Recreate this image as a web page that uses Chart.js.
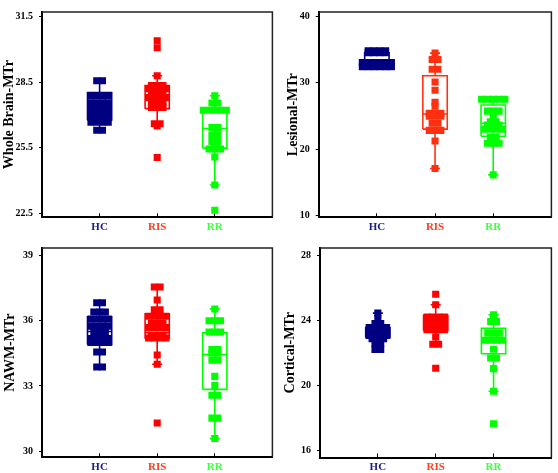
<!DOCTYPE html>
<html><head><meta charset="utf-8">
<script src="https://cdn.jsdelivr.net/npm/chart.js@4/dist/chart.umd.min.js"></script>
<style>
html,body{margin:0;padding:0;background:#fff;}
#wrap{position:relative;width:558px;height:473px;overflow:hidden;background:#fff;}
canvas{position:absolute;}
</style></head><body>
<div id="wrap">
<canvas id="c1" width="279" height="236" style="left:0;top:0"></canvas>
<canvas id="c2" width="279" height="236" style="left:279px;top:0"></canvas>
<canvas id="c3" width="279" height="237" style="left:0;top:236px"></canvas>
<canvas id="c4" width="279" height="237" style="left:279px;top:236px"></canvas>
</div>
<script>
// ---------- categories ----------
const groups = ['HC', 'RIS', 'RR'];

// ---------- Whole Brain-MTr ----------
const wbTickValues = [22.5, 25.5, 28.5, 31.5];
const wbTickLabels = ['22.5', '25.5', '28.5', '31.5'];
const wbHC = [28.57, 28.57, 27.88, 27.88, 27.88, 27.88, 27.56, 27.56, 27.56, 27.56, 27.33, 27.33, 27.33, 27.33,
  27.11, 27.11, 27.11, 27.11, 26.88, 26.88, 26.88, 26.88, 26.67, 26.67, 26.67, 26.67, 26.3, 26.3];
const wbRIS = [30.4, 30.08, 28.8, 28.35, 28.35, 28.35, 28.2, 28.2, 28.2, 28.2, 28.0, 28.0, 28.0, 27.8, 27.8, 27.8, 27.8,
  27.55, 27.55, 27.55, 27.35, 27.35, 27.35, 26.6, 26.6, 26.5, 25.05];
const wbRR = [27.88, 27.55, 27.55, 27.22, 27.22, 27.22, 27.22, 27.22, 26.43, 26.43, 26.08, 26.08, 25.78, 25.78,
  25.44, 25.44, 25.44, 25.07, 23.79, 22.63];
const wbQ1 = [26.77, 27.29, 25.48];
const wbMed = [27.4, 27.8, 26.38];
const wbQ3 = [28.03, 28.35, 27.27];
const wbLo = [26.3, 26.5, 23.79];
const wbHi = [28.57, 28.8, 27.88];

// ---------- Lesional-MTr ----------
const lesTickValues = [10, 20, 30, 40];
const lesTickLabels = ['10', '20', '30', '40'];
const lesHC = [34.78, 34.78, 34.78, 34.78, 34.49, 34.49, 34.49, 34.49, 33.03, 33.03, 33.03, 33.03, 33.03, 33.03,
  32.38, 32.38, 32.38, 32.38, 32.38, 32.38];
const lesRIS = [34.44, 33.47, 33.47, 32.02, 32.02, 30.09, 28.87, 27.04, 26.46, 25.4, 25.4, 25.4, 24.95, 24.95, 24.95,
  23.89, 23.89, 22.83, 22.83, 22.83, 21.23, 17.11];
const lesRR = [27.52, 27.52, 27.52, 27.52, 27.52, 25.73, 25.73, 25.73, 24.72, 24.14, 24.14, 23.65, 23.65, 23.65,
  23.02, 23.02, 23.02, 23.02, 21.81, 21.81, 20.89, 20.89, 20.89, 16.15];
const lesQ1 = [32.38, 23.02, 21.96];
const lesMed = [33.03, 25.3, 23.9];
const lesQ3 = [34.49, 31.05, 26.65];
const lesLo = [32.38, 17.11, 16.15];
const lesHi = [34.78, 34.44, 27.52];

// ---------- NAWM-MTr ----------
const nawmTickValues = [30, 33, 36, 39];
const nawmTickLabels = ['30', '33', '36', '39'];
const nawmHC = [36.82, 36.82, 36.4, 36.4, 36.4, 36.07, 36.07, 36.07, 36.07, 35.74, 35.74, 35.74, 35.74,
  35.45, 35.45, 35.45, 35.18, 35.18, 35.18, 35.18, 35.0, 35.0, 35.0, 35.0, 34.56, 34.56, 33.87, 33.87];
const nawmRIS = [37.55, 37.55, 36.95, 36.5, 36.5, 36.2, 36.2, 36.2, 36.2, 35.88, 35.88, 35.88, 35.68, 35.68, 35.68, 35.68,
  35.3, 35.3, 35.3, 35.2, 35.2, 35.2, 35.2, 34.42, 34.0, 31.3];
const nawmRR = [36.54, 36.0, 36.0, 36.0, 35.48, 35.48, 35.48, 34.67, 34.67, 34.5, 34.5, 34.18, 34.18, 33.44, 33.02,
  32.57, 32.57, 31.52, 31.52, 30.58];
const nawmQ1 = [34.9, 35.17, 32.84];
const nawmMed = [35.5, 35.45, 34.44];
const nawmQ3 = [36.18, 36.31, 35.44];
const nawmLo = [33.87, 34.0, 30.58];
const nawmHi = [36.82, 37.55, 36.54];

// ---------- Cortical-MTr ----------
const cortTickValues = [16, 20, 24, 28];
const cortTickLabels = ['16', '20', '24', '28'];
const cortHC = [24.46, 24.12, 23.82, 23.82, 23.57, 23.57, 23.57, 23.57, 23.32, 23.32, 23.32, 23.32, 23.09, 23.09, 23.09, 23.09,
  22.89, 22.89, 22.89, 22.59, 22.59, 22.22, 22.22];
const cortRIS = [25.62, 24.97, 24.22, 24.22, 24.22, 24.22, 23.98, 23.98, 23.98, 23.82, 23.82, 23.82, 23.82, 23.58, 23.58, 23.58,
  23.44, 23.44, 23.44, 23.44, 22.99, 22.55, 22.55, 21.07];
const cortRR = [24.35, 23.94, 23.94, 23.23, 23.23, 23.23, 22.79, 22.79, 22.79, 22.79, 22.24, 21.7, 21.7, 21.05, 19.66, 17.66];
const cortQ1 = [22.95, 23.38, 21.96];
const cortMed = [23.32, 23.8, 22.69];
const cortQ3 = [23.57, 24.33, 23.52];
const cortLo = [22.22, 22.55, 19.66];
const cortHi = [24.46, 24.97, 24.35];

// ---------- styling / layout ----------
const SERIF = "'Liberation Serif', 'Times New Roman', serif";
const STEP = 0.1;      // horizontal spread of tied points (x units)
const HW = 0.21;       // box half width (x units)
const panelSpecs = [
  {id:'c1', title:'Whole Brain-MTr', tv:wbTickValues, tl:wbTickLabels, min:22.31, max:31.72,
   vals:[wbHC, wbRIS, wbRR], q1:wbQ1, med:wbMed, q3:wbQ3, lo:wbLo, hi:wbHi,
   colors:['#000080', '#ff0000', '#00ff00'], yw:42, pr:3, xh:18.7, tpad:0.6},
  {id:'c2', title:'Lesional-MTr', tv:lesTickValues, tl:lesTickLabels, min:9.77, max:40.62,
   vals:[lesHC, lesRIS, lesRR], q1:lesQ1, med:lesMed, q3:lesQ3, lo:lesLo, hi:lesHi,
   colors:['#000080', '#ff3010', '#00ff00'], yw:39.7, pr:5, xh:18.7, tpad:5.6},
  {id:'c3', title:'NAWM-MTr', tv:nawmTickValues, tl:nawmTickLabels, min:29.72, max:39.34,
   vals:[nawmHC, nawmRIS, nawmRR], q1:nawmQ1, med:nawmMed, q3:nawmQ3, lo:nawmLo, hi:nawmHi,
   colors:['#000080', '#ff0000', '#00ff00'], yw:42, pr:2, xh:15.7, tpad:1.6},
  {id:'c4', title:'Cortical-MTr', tv:cortTickValues, tl:cortTickLabels, min:15.59, max:28.46,
   vals:[cortHC, cortRIS, cortRR], q1:cortQ1, med:cortMed, q3:cortQ3, lo:cortLo, hi:cortHi,
   colors:['#000080', '#ff0000', '#00ff00'], yw:41, pr:4, xh:15.5, tpad:3.1}
];
const labelColors = ['#1a1a8c', '#ff4020', '#40ff40'];

function spread(vals, g) {
  const counts = new Map(), seen = new Map();
  vals.forEach(v => counts.set(v, (counts.get(v) || 0) + 1));
  return vals.map(v => {
    const k = seen.get(v) || 0; seen.set(v, k + 1);
    const n = counts.get(v);
    return {x: g + (k - (n - 1) / 2) * STEP, y: v};
  });
}

const framePlugin = {
  id: 'frame',
  afterDraw(chart) {
    const {ctx, chartArea: a} = chart;
    ctx.save();
    ctx.strokeStyle = '#222';
    ctx.lineWidth = 1.5;
    ctx.beginPath();
    ctx.moveTo(a.left, a.top);
    ctx.lineTo(a.right, a.top);
    ctx.lineTo(a.right, a.bottom);
    ctx.stroke();
    ctx.restore();
  }
};

panelSpecs.forEach(P => {
  const datasets = [];
  groups.forEach((name, g) => {
    const col = P.colors[g];
    datasets.push({type:'line', data:[
        {x:g - HW, y:P.q1[g]}, {x:g + HW, y:P.q1[g]}, {x:g + HW, y:P.q3[g]}, {x:g - HW, y:P.q3[g]}, {x:g - HW, y:P.q1[g]}],
      borderColor:col, borderWidth:1.6, pointRadius:0, fill:false, tension:0, order:5});
    datasets.push({type:'line', data:[{x:g - HW, y:P.med[g]}, {x:g + HW, y:P.med[g]}],
      borderColor:col, borderWidth:1.6, pointRadius:0, fill:false, order:5});
    datasets.push({type:'line', data:[{x:g, y:P.hi[g]}, {x:g, y:P.q3[g]}, {x:g, y:null}, {x:g, y:P.q1[g]}, {x:g, y:P.lo[g]}],
      borderColor:col, borderWidth:1.6, pointRadius:0, fill:false, spanGaps:false, order:5});
    datasets.push({type:'scatter', data:[{x:g, y:P.lo[g]}, {x:g, y:P.hi[g]}],
      pointStyle:'line', pointRadius:5, borderColor:col, borderWidth:1.6, order:4});
    datasets.push({type:'scatter', data:spread(P.vals[g], g),
      pointStyle:'rect', pointRadius:5, backgroundColor:col, borderWidth:0, order:1});
  });

  new Chart(document.getElementById(P.id), {
    type:'scatter',
    data:{datasets},
    plugins:[framePlugin],
    options:{
      responsive:false, animation:false, devicePixelRatio:1,
      layout:{padding:{left:0, right:P.pr, top:5, bottom:0}},
      plugins:{legend:{display:false}, tooltip:{enabled:false}},
      scales:{
        x:{type:'linear', min:-1, max:3,
          afterBuildTicks:s => { s.ticks = groups.map((_, i) => ({value:i})); },
          afterFit:s => { s.height = P.xh; },
          ticks:{autoSkip:false, maxRotation:0, padding:7,
            callback:(v, i) => groups[i],
            color:c => labelColors[c.index],
            font:{family:SERIF, size:11, weight:'bold'}},
          grid:{display:true, drawOnChartArea:false, drawTicks:true, tickLength:-4, color:'#000', lineWidth:1},
          border:{display:true, color:'#000', width:2}},
        y:{min:P.min, max:P.max,
          afterBuildTicks:s => { s.ticks = P.tv.map(v => ({value:v})); },
          afterFit:s => { s.width = P.yw; },
          ticks:{autoSkip:false, padding:6, color:'#000',
            callback:(v, i) => P.tl[i],
            font:{family:SERIF, size:10, weight:'bold'}},
          grid:{display:true, drawOnChartArea:false, drawTicks:true, tickLength:3, color:'#000', lineWidth:1},
          border:{display:true, color:'#000', width:2},
          title:{display:true, text:P.title, color:'#000',
            font:{family:SERIF, size:14, weight:'bold', lineHeight:1.2},
            padding:{top:P.tpad, bottom:0}}}
      }
    }
  });
});
</script>
</body></html>
